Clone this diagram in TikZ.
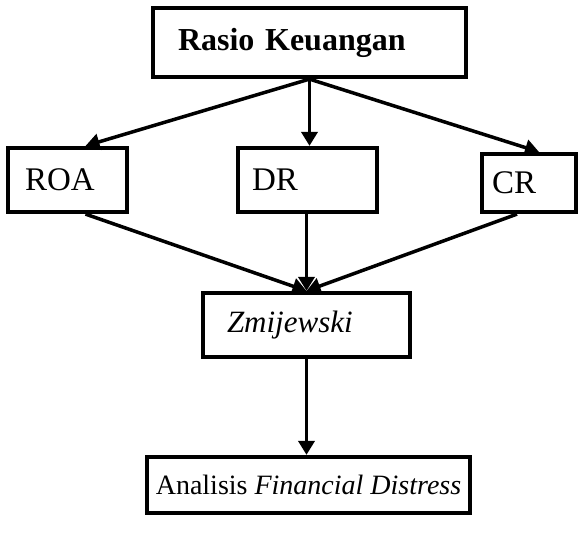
\documentclass[tikz,border=0pt]{standalone}
\usepackage{fontspec}
\setmainfont{Liberation Serif}
\usetikzlibrary{arrows.meta}

\begin{document}
\begin{tikzpicture}[x=1pt, y=-1pt,
		boxNode/.style={draw, line width=4.2pt, inner ysep=0pt, font=\fontsize{29}{35}\selectfont},
		ratioNode/.style={boxNode, minimum height=64pt, align=left, font=\fontsize{33}{39}\selectfont},
		arrowLine/.style={line width=3.5pt, -{Triangle[length=14pt, width=16pt]}}]
	\useasboundingbox (0,0) rectangle (581,538);
	% kotak atas
	\node[boxNode, minimum height=69pt, inner xsep=25pt, text width=263pt, align=left,
		font=\fontsize{32}{38}\selectfont\bfseries] (rasio) at (309.5,42.5) {Rasio Keuangan};
	% tiga rasio
	\node[ratioNode, inner xsep=17pt, text width=85pt] (roa) at (67.5,180) {ROA};
	\node[ratioNode, inner xsep=14pt, text width=111pt] (dr) at (307.5,180) {DR};
	\node[ratioNode, minimum height=58pt, inner xsep=10pt, text width=74pt] (cr) at (529,183) {CR};
	% model dan hasil
	\node[boxNode, minimum height=64pt, inner xsep=24pt, text width=159pt, align=left,
		font=\fontsize{31}{37}\selectfont\itshape] (zmij) at (306.5,325) {Zmijewski};
	\node[boxNode, minimum height=56pt, minimum width=323pt, font=\fontsize{28}{34}\selectfont] (analisis) at (308.5,485) {Analisis \textit{Financial Distress}};
	\draw[arrowLine] (rasio.south) -- ([xshift=18pt]roa.north);
	\draw[arrowLine] (rasio.south) -- (rasio.south |- dr.north);
	\draw[arrowLine] (rasio.south) -- ([xshift=10pt]cr.north);
	\draw[arrowLine] ([xshift=18pt]roa.south) -- (zmij.north);
	\draw[arrowLine] (zmij.north |- dr.south) -- (zmij.north);
	\draw[arrowLine] ([xshift=-12pt]cr.south) -- (zmij.north);
	\draw[arrowLine] (zmij.south) -- (zmij.south |- analisis.north);
\end{tikzpicture}
\end{document}
